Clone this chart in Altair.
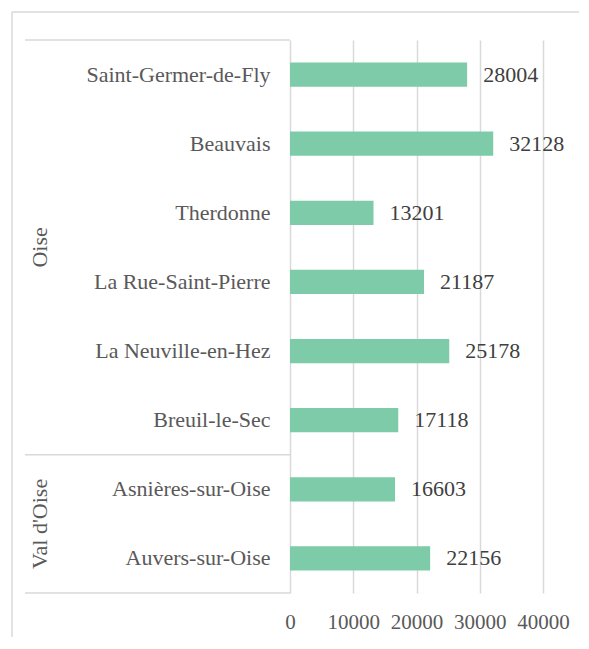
import altair as alt
import pandas as pd

# Data
categories = ["Saint-Germer-de-Fly", "Beauvais", "Therdonne", "La Rue-Saint-Pierre",
              "La Neuville-en-Hez", "Breuil-le-Sec", "Asnières-sur-Oise", "Auvers-sur-Oise"]
values = [28004, 32128, 13201, 21187, 25178, 17118, 16603, 22156]
groups = ["Oise"] * 6 + ["Val d'Oise"] * 2

# Group order from the bottom of the axis upward
group_names = ["Val d'Oise", "Oise"]
group_counts = [groups.count(g) for g in group_names]

df = pd.DataFrame({"city": categories, "value": values, "group": groups})

# group boundaries in units of categories (bottom = 0)
starts, ends = [], []
acc = 0
for c in group_counts:
    starts.append(acc)
    acc += c
    ends.append(acc)
gdf = pd.DataFrame({"group": group_names, "start": starts, "end": ends})
gdf["mid"] = (gdf["start"] + gdf["end"]) / 2
bounds = pd.DataFrame({"b": sorted(set(starts + ends))})

FONT = "'Liberation Serif', 'DejaVu Serif', serif"
GRAY = "#595959"
LINE = "#d9d9d9"
BAR = "#7DCBA8"
N = len(categories)

yband = alt.Y("city:N", sort=categories, title=None,
              scale=alt.Scale(paddingInner=0.65, paddingOuter=0.325),
              axis=alt.Axis(ticks=False, domain=False, labelPadding=20,
                            labelFontSize=22, labelColor=GRAY, labelFont=FONT,
                            labelLimit=400))
xq = alt.X("value:Q", title=None,
           scale=alt.Scale(domain=[0, 40000], nice=False),
           axis=alt.Axis(values=[0, 10000, 20000, 30000, 40000], format="d",
                         grid=True, gridColor=LINE, gridWidth=1.5,
                         domain=False, ticks=False, labelPadding=18,
                         labelOverlap=False, labelFlush=False,
                         labelFontSize=21, labelColor=GRAY, labelFont=FONT))

bars = alt.Chart(df).mark_bar(color=BAR).encode(x=xq, y=yband)
labels = alt.Chart(df).mark_text(align="left", baseline="middle", dx=16,
                                 fontSize=22, font=FONT, color="#404040").encode(
    x=alt.X("value:Q"), y=alt.Y("city:N", sort=categories), text=alt.Text("value:Q", format="d"))

main = alt.layer(bars, labels)

ylin = alt.Scale(domain=[0, N], nice=False, zero=True)
sep = alt.Chart(bounds).mark_rule(color=LINE, strokeWidth=1.5).encode(
    y=alt.Y("b:Q", scale=ylin, axis=None),
    x=alt.value(-265), x2=alt.value(0))
glab = alt.Chart(gdf).mark_text(angle=270, align="center", baseline="middle",
                                fontSize=22, font=FONT, color=GRAY).encode(
    y=alt.Y("mid:Q", scale=ylin, axis=None),
    x=alt.value(-250), text="group:N")
grp = alt.layer(sep, glab)

one = alt.Data(values=[{"k": 1}])
border_top = alt.Chart(one).mark_rule(color=LINE, strokeWidth=1.5).encode(
    x=alt.value(-278), x2=alt.value(300), y=alt.value(-28))
border_left = alt.Chart(one).mark_rule(color=LINE, strokeWidth=1.5).encode(
    x=alt.value(-278), y=alt.value(-28), y2=alt.value(620))

chart = alt.layer(main, grp, border_top, border_left).resolve_scale(y="independent").properties(
    width=253, height=553,
    autosize=alt.AutoSizeParams(type="none"),
    padding={"left": 282, "top": 32, "right": 36, "bottom": 44},
    background="white",
).configure_view(stroke=None)

chart.save("out.html", embed_options={"renderer": "svg", "actions": False})
